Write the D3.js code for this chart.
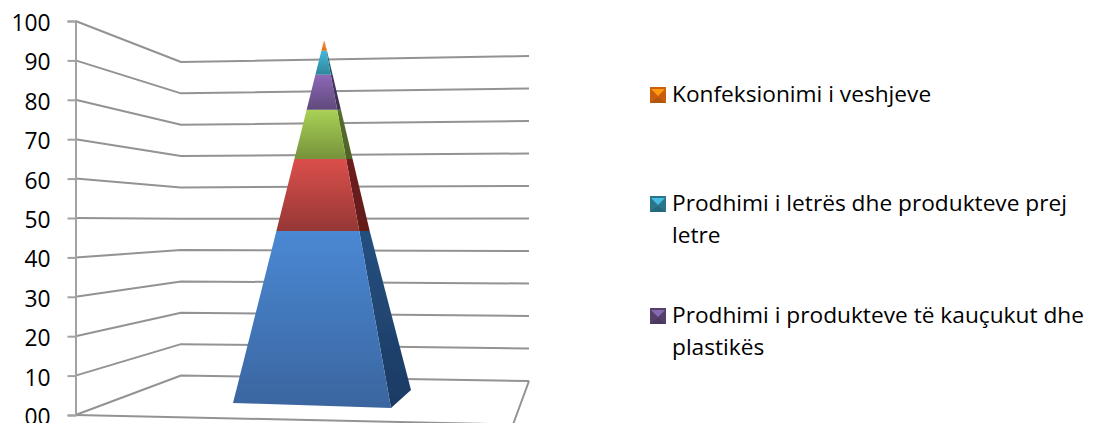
<!DOCTYPE html>
<html><head><meta charset="utf-8">
<script src="https://cdn.jsdelivr.net/npm/d3@7"></script>
<style>html,body{margin:0;background:#fff;overflow:hidden}svg{display:block}text{font-family:"Open Sans",Lato,sans-serif;fill:#000}</style>
</head><body><svg id="c" width="1096" height="423"></svg>
<script>
const seriesNames=["Series A","Series B","Series C","Prodhimi i produkteve të kauçukut dhe plastikës","Prodhimi i letrës dhe produkteve prej letre","Konfeksionimi i veshjeve"];
const seriesValues=[47.8,19.8,13.5,9.6,6.6,2.7];
const tickValues=[0,10,20,30,40,50,60,70,80,90,100];
const tickLabels=["00","10","20","30","40","50","60","70","80","90","100"];
const faceTop=["#4a88d4","#db4f4b","#a9d255","#8d68b8","#3fb9d8","#f79646"];
const faceBottom=["#3a659f","#953735","#76923c","#5f497a","#31859c","#e46c0a"];
const sideTop=["#24507f","#6e1f1d","#55702a","#43305f","#215968","#c05a10"];
const sideBottom=["#1c3a63","#631b19","#4f6228","#3f3151","#215968","#c05a10"];
const legendOrder=[
 {series:5,lines:["Konfeksionimi i veshjeve"],y:95},
 {series:4,lines:["Prodhimi i letrës dhe produkteve prej","letre"],y:204},
 {series:3,lines:["Prodhimi i produkteve të kauçukut dhe","plastikës"],y:316}];

const svg=d3.select("#c");
const defs=svg.append("defs");
const yFront=d3.scaleLinear().domain([0,100]).range([415,21]);
const yBackL=d3.scaleLinear().domain([0,100]).range([375.5,62]);
const yBackR=d3.scaleLinear().domain([0,100]).range([381,56]);
const xFront=75.5,xBackL=181,xBackR=529;
const gridColor="#939393";
const blur=defs.append("filter").attr("id","soft").attr("x","-5%").attr("y","-5%").attr("width","110%").attr("height","110%");
blur.append("feGaussianBlur").attr("stdDeviation",0.45);

// walls
const grid=svg.append("g").attr("filter","url(#soft)").attr("fill","none").attr("stroke",gridColor).attr("stroke-width",2).attr("stroke-linejoin","round");
grid.selectAll("polyline").data(tickValues).join("polyline")
 .attr("points",d=>[[xFront,yFront(d)],[xBackL,yBackL(d)],[xBackR,yBackR(d)]].join(" "));
// floor
grid.append("polyline").attr("points",[[xFront,yFront(0)],[513,424.5],[xBackR,yBackR(0)]].join(" "));

// value axis
const ax=svg.append("g").attr("transform",`translate(${xFront},0)`)
 .call(d3.axisLeft(yFront).tickValues(tickValues).tickFormat((d,i)=>tickLabels[i]).tickSize(8).tickPadding(17));
ax.selectAll("path,line").attr("stroke","#a2a2a2").attr("stroke-width",2);
ax.selectAll("text").attr("font-size",22.8).attr("dy","0.42em").style("font-family",'"Open Sans",sans-serif').attr("fill","#000");

// pyramid
const stacked=d3.pairs([0,...d3.cumsum(seriesValues)]);
const total=d3.sum(seriesValues);
const lvY=d3.scaleLinear().domain([0,total]).range([405,41]);
const lX=d3.scaleLinear().domain([0,total]).range([233,323.8]);
const rX=d3.scaleLinear().domain([0,total]).range([391,324.6]);
const bX=d3.scaleLinear().domain([0,total]).range([411,324.6]);
function grad(id,a,b){const g=defs.append("linearGradient").attr("id",id).attr("x1",0).attr("y1",0).attr("x2",0).attr("y2",1);
 g.append("stop").attr("offset",0).attr("stop-color",a);g.append("stop").attr("offset",1).attr("stop-color",b);}
const pyr=svg.append("g").attr("filter","url(#soft)");
stacked.forEach(([v0,v1],i)=>{
 grad("f"+i,faceTop[i],faceBottom[i]);grad("s"+i,sideTop[i],sideBottom[i]);
 const yl=i===0?403:lvY(v0), yr=i===0?408:lvY(v0), yb=i===0?390:lvY(v0);
 pyr.append("polygon").attr("fill",`url(#s${i})`)
  .attr("points",[[rX(v0),yr],[bX(v0),yb],[bX(v1),lvY(v1)],[rX(v1),lvY(v1)]].join(" "));
 pyr.append("polygon").attr("fill",`url(#f${i})`)
  .attr("points",[[lX(v0),yl],[rX(v0),yr],[rX(v1),lvY(v1)],[lX(v1),lvY(v1)]].join(" "));
});

// legend
const lg=svg.append("g");
legendOrder.forEach(e=>{
 const i=e.series,s=16,x=650,y=e.y-8;
 const c=d3.color(faceBottom[i]);
 const cx=x+s/2,cy=y+s/2,p=3;
 const m=lg.append("g").attr("filter","url(#soft)");
 m.append("rect").attr("x",x).attr("y",y).attr("width",s).attr("height",s).attr("fill",c.darker(0.35));
 m.append("polygon").attr("points",[[x+p-2,y+p-1],[x+s-p+2,y+p-1],[cx,cy+1]].join(" ")).attr("fill",c.brighter(1));
 m.append("polygon").attr("points",[[x,y+s],[x+s,y+s],[cx,cy+2]].join(" ")).attr("fill",c.darker(0.7));
 e.lines.forEach((ln,k)=>lg.append("text").attr("x",672).attr("y",e.y+7+k*32).attr("font-size",22.7).text(ln));
});
</script></body></html>
